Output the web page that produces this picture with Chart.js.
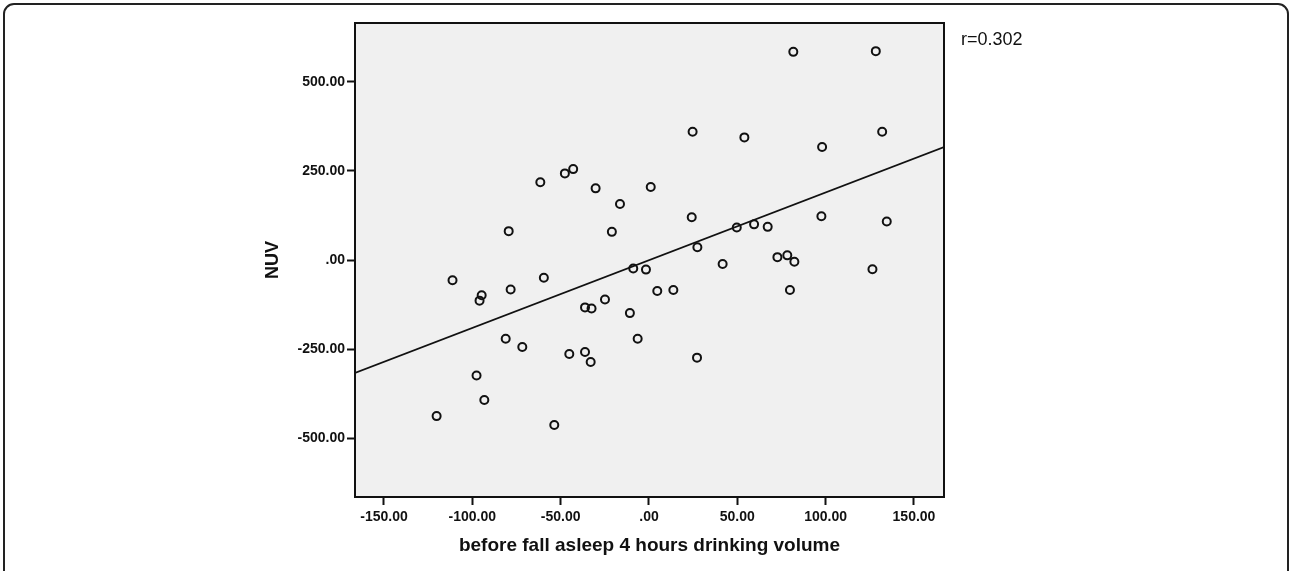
<!DOCTYPE html>
<html>
<head>
<meta charset="utf-8">
<script src="https://cdn.jsdelivr.net/npm/chart.js@4/dist/chart.umd.min.js"></script>
<style>
  body { margin: 0; background: #fff; }
  #wrap { position: relative; width: 1290px; height: 571px; overflow: hidden; }
  #frame {
    position: absolute; left: 3px; top: 3px; width: 1286px; height: 620px;
    border: 2px solid #222; border-radius: 11px; box-sizing: border-box;
  }
  #rlabel {
    position: absolute; left: 961px; top: 29px;
    font: 18px "Liberation Sans", Arial, sans-serif; color: #111;
  }
  canvas { position: absolute; left: 0; top: 0; }
</style>
</head>
<body>
<div id="wrap">
  <div id="frame"></div>
  <canvas id="scatter" width="1290" height="571"></canvas>
  <div id="rlabel">r=0.302</div>
</div>
<script>
// drinking volume in the 4 hours before sleep (x) and NUV (y)
const drinkVolume = [
  -61.5, -47.6, -42.9, -30.2, -16.4, -79.4, -21.0, 1.0,
  -111.2, -94.7, -95.9, -78.3, -59.5, -36.2, -32.5, -24.9, -10.8, -8.9, -1.7,
  -81.1, -71.7, -45.1, -36.2, -33.0, -6.4, -97.6, -93.2, -120.2, -53.6,
  81.7, 128.4, 24.7, 54.0, 98.0, 132.0, 24.2, 97.6, 134.6, 49.7, 59.5, 67.2,
  27.4, 72.7, 78.3, 82.3, 41.7, 126.5,
  4.7, 13.8, 79.8, 27.2
];
const nuv = [
  218, 243, 255, 201, 157, 81, 79, 205,
  -57, -99, -114, -83, -50, -133, -136, -111, -149, -24, -27,
  -221, -244, -264, -258, -286, -221, -324, -393, -438, -463,
  584, 586, 360, 344, 317, 360, 120, 123, 108, 91, 100, 93,
  36, 8, 13, -5, -11, -26,
  -87, -84, -84, -274
];

// fit line
const fitX = [-166.4, 167];
const fitY = [-317, 317];

const xTicks = [-150, -100, -50, 0, 50, 100, 150];
const yTicks = [-500, -250, 0, 250, 500];

const points = drinkVolume.map((x, i) => ({ x: x, y: nuv[i] }));
const fitLine = fitX.map((x, i) => ({ x: x, y: fitY[i] }));

const fmt = v => v === 0 ? '.00' : v.toFixed(2);

// grey plot background and the box around it
const plotBox = {
  id: 'plotBox',
  beforeDatasetsDraw(chart) {
    const a = chart.chartArea, ctx = chart.ctx;
    ctx.save();
    ctx.fillStyle = '#f0f0f0';
    ctx.fillRect(a.left, a.top, a.right - a.left, a.bottom - a.top);
    ctx.restore();
  },
  afterDraw(chart) {
    const a = chart.chartArea, ctx = chart.ctx;
    ctx.save();
    ctx.strokeStyle = '#111';
    ctx.lineWidth = 2;
    ctx.strokeRect(a.left, a.top, a.right - a.left, a.bottom - a.top);
    ctx.restore();
  }
};

new Chart(document.getElementById('scatter'), {
  type: 'scatter',
  data: {
    datasets: [{
      label: 'NUV',
      data: points,
      pointStyle: 'circle',
      pointRadius: 4,
      pointBorderWidth: 2,
      pointBorderColor: '#111',
      pointBackgroundColor: 'rgba(0,0,0,0)'
    }, {
      type: 'line',
      label: 'fit',
      data: fitLine,
      borderColor: '#111',
      borderWidth: 1.6,
      pointRadius: 0,
      fill: false
    }]
  },
  options: {
    responsive: false,
    animation: false,
    layout: { padding: { left: 258, right: 346, top: 23, bottom: 10 } },
    plugins: { legend: { display: false }, tooltip: { enabled: false } },
    scales: {
      x: {
        type: 'linear',
        min: -166.4,
        max: 167,
        afterFit(s) { s.height = 64; },
        afterBuildTicks(s) { s.ticks = xTicks.map(v => ({ value: v })); },
        grid: { drawOnChartArea: false, tickLength: 8, tickColor: '#111', tickWidth: 2 },
        border: { color: '#111', width: 2 },
        ticks: {
          callback: fmt, color: '#111', padding: 4, maxRotation: 0,
          font: { family: 'Liberation Sans', size: 14, weight: 'bold' }
        },
        title: {
          display: true,
          text: 'before fall asleep 4 hours drinking volume',
          color: '#111',
          font: { family: 'Liberation Sans', size: 19, weight: 'bold' }
        }
      },
      y: {
        type: 'linear',
        min: -665,
        max: 665,
        afterFit(s) { s.width = 97; },
        afterBuildTicks(s) { s.ticks = yTicks.map(v => ({ value: v })); },
        grid: { drawOnChartArea: false, tickLength: 8, tickColor: '#111', tickWidth: 2 },
        border: { color: '#111', width: 2 },
        ticks: {
          callback: fmt, color: '#111', padding: 2,
          font: { family: 'Liberation Sans', size: 14, weight: 'bold' }
        },
        title: {
          display: true,
          text: 'NUV',
          color: '#111',
          font: { family: 'Liberation Sans', size: 18, weight: 'bold' }
        }
      }
    }
  },
  plugins: [plotBox]
});
</script>
</body>
</html>
